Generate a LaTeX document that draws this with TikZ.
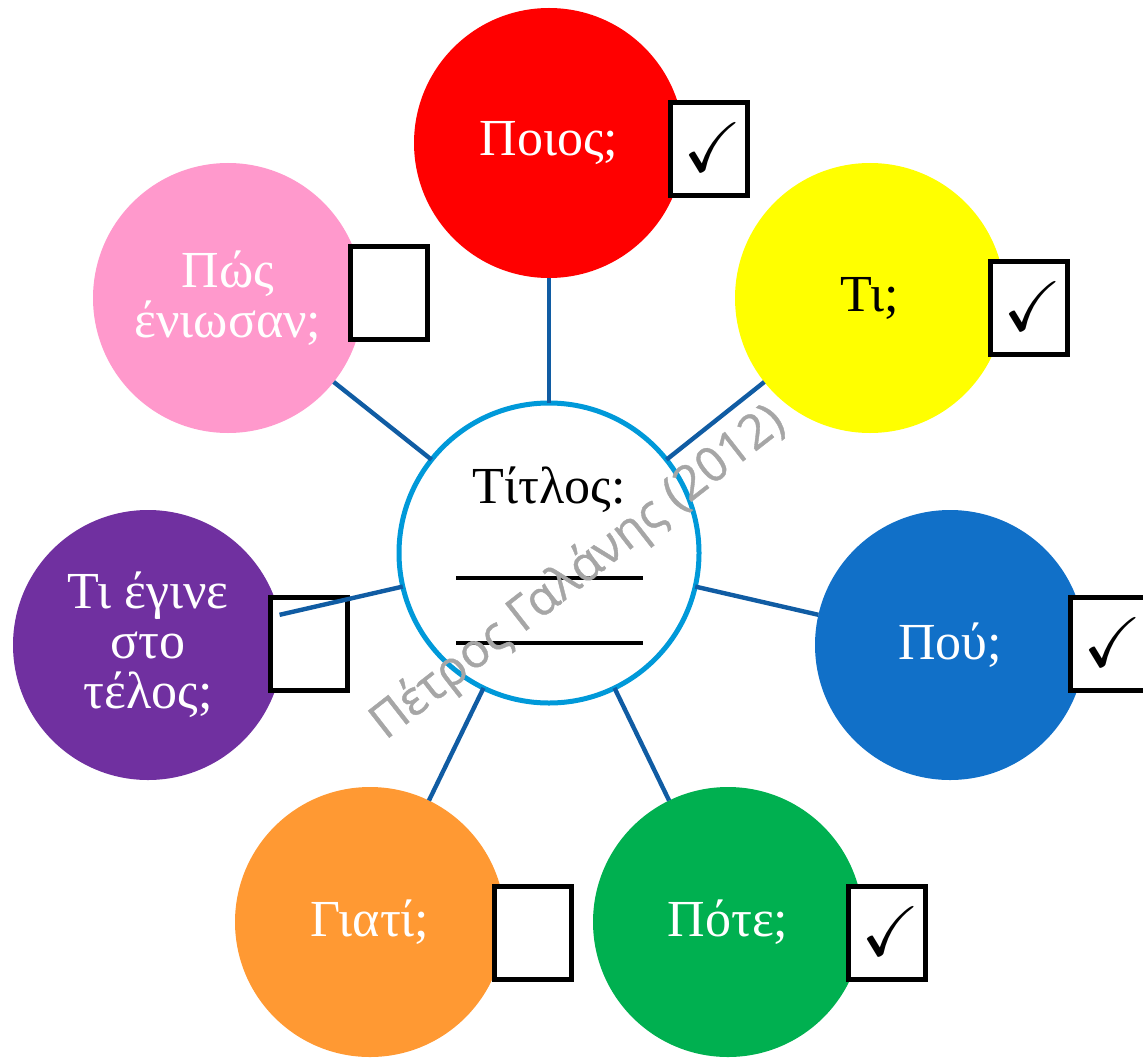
\documentclass[tikz,border=0pt]{standalone}
\usepackage{amssymb}
\usepackage{graphicx}
\usepackage{fontspec}
\setmainfont{Liberation Serif}
\newfontfamily\wmfont[FakeBold=0.8]{Open Sans}
\definecolor{bred}{RGB}{255,0,0}
\definecolor{byellow}{RGB}{255,255,0}
\definecolor{bpink}{RGB}{255,153,204}
\definecolor{bpurple}{RGB}{112,48,160}
\definecolor{bblue}{RGB}{17,112,200}
\definecolor{borange}{RGB}{255,153,51}
\definecolor{bgreen}{RGB}{0,176,80}
\definecolor{rimblue}{RGB}{0,153,217}
\definecolor{linkblue}{RGB}{16,92,163}
\definecolor{wmgray}{RGB}{166,166,166}
\begin{document}
\begin{tikzpicture}[x=.5pt,y=-.5pt,
  bubble/.style={circle,minimum size=135pt,inner sep=0pt,outer sep=0pt,align=center,
    font=\fontsize{26}{25}\selectfont},
  tickbox/.style={draw=black,line width=2.5pt,fill=white,minimum width=38.5pt,
    minimum height=46.5pt,inner sep=0pt,font=\fontsize{26}{26}\selectfont},
  link/.style={draw=linkblue,line width=2.2pt}]
\useasboundingbox (0,0) rectangle (1143,1059);
% the seven questions
\foreach \name/\x/\y/\col/\tcol/\txt in {
  who/549/143/bred/white/{Ποιος;},
  what/870/298/byellow/black/{Τι;},
  how/228/298/bpink/white/{Πώς\\ένιωσαν;},
  end/148/645/bpurple/white/{Τι έγινε\\στο\\τέλος;},
  where/950/645/bblue/white/{Πού;},
  why/370/922/borange/white/{Γιατί;},
  when/728/922/bgreen/white/{Πότε;}}
  \node[bubble,fill=\col,text=\tcol] (\name) at (\x,\y) {\txt};
% boxes, ticked or not
\foreach \name/\x/\y/\tick in {who/709/149/1,what/1029/308/1,how/389/293/0,
  end/309/644/0,where/1109/644/1,why/533/933/0,when/887/933/1}
  \node[tickbox] (box\name) at (\x,\y)
    {\ifnum\tick=1 \hspace{4pt}\raisebox{2pt}{\scalebox{1.35}{$\checkmark$}}\fi};
% title circle
\node[circle,draw=rimblue,line width=2.5pt,fill=white,minimum size=150pt,
  inner sep=0pt,outer sep=0pt] (ctr) at (549,553) {};
\foreach \name in {who,what,how,end,where,why,when}
  \draw[link] (ctr) -- (\name);
\node[font=\fontsize{26}{26}\selectfont] (title) at (549,490) {Τίτλος:};
\draw[line width=1.7pt] (456,578) -- (643,578);
\draw[line width=1.7pt] (456,643) -- (643,643);
% watermark
\node[rotate=38,text=wmgray,font=\wmfont\fontsize{24}{24}\selectfont] (mark)
  at (578,573) {Πέτρος Γαλάνης (2012)};
\end{tikzpicture}
\end{document}
